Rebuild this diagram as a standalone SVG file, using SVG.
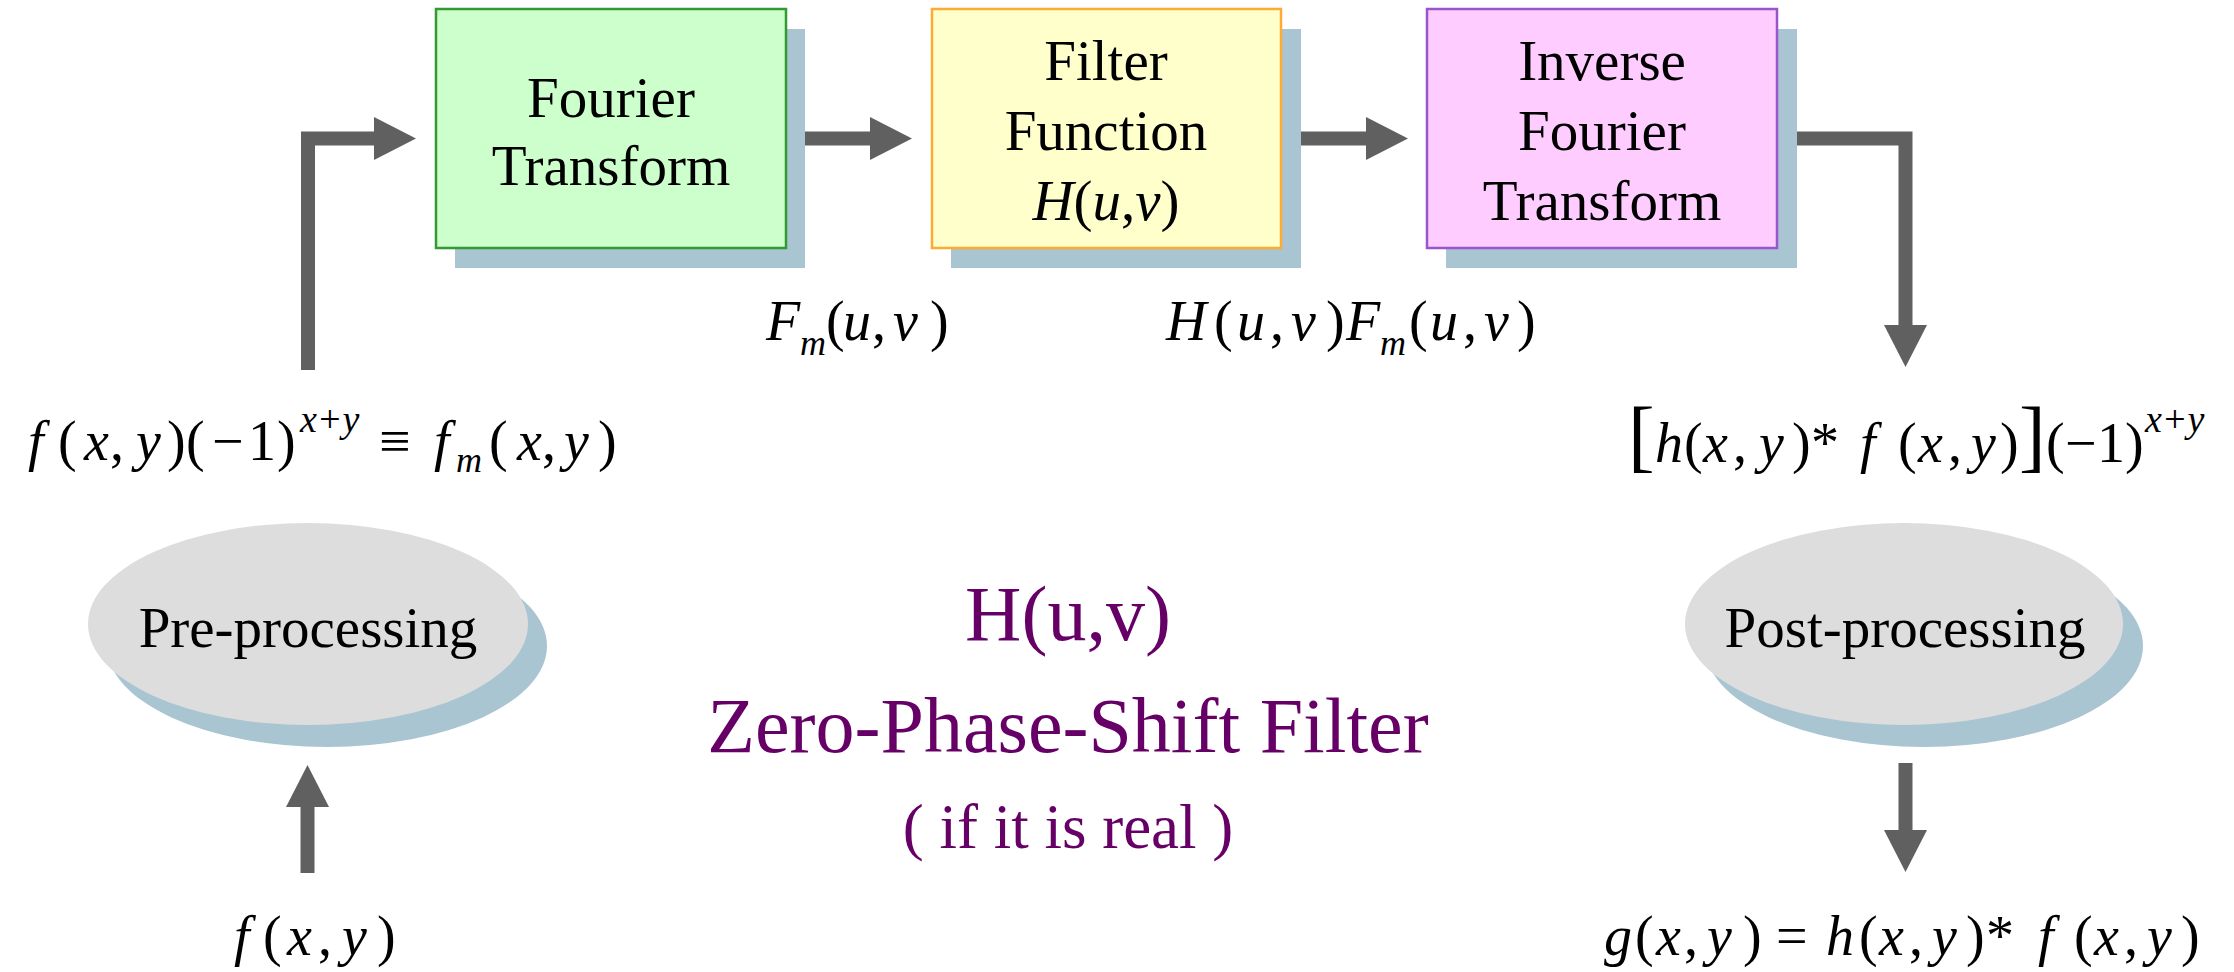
<svg xmlns="http://www.w3.org/2000/svg" width="2234" height="972" viewBox="0 0 2234 972">
<style>
text{font-family:"Liberation Serif","Times New Roman",serif;fill:#000}
.lbl{font-size:57px;text-anchor:middle}
.m{font-size:56px}
.i{font-style:italic}
.sup{font-size:38px;font-style:italic}
.sub{font-size:36px;font-style:italic}
.br{font-size:80px}
.pur{fill:#660066;text-anchor:middle}
.shadow{fill:#a9c5d1}
.box{stroke-width:2.5}
.ell{fill:#dddddd}
.conn{fill:none;stroke:#606060;stroke-width:14;stroke-linejoin:miter;marker-end:url(#ah)}
</style>
<defs>
<marker id="ah" markerUnits="userSpaceOnUse" markerWidth="44" markerHeight="44" refX="0" refY="21.5" orient="auto" viewBox="0 0 44 44">
<path d="M0,0 L42,21.5 L0,43 Z" fill="#606060"/>
</marker>
</defs>
<rect width="2234" height="972" fill="#fff"/>

<g id="connectors">
<path class="conn" d="M308,370 V138.5 H374"/>
<path class="conn" d="M803,138.5 H870"/>
<path class="conn" d="M1299,138.5 H1366"/>
<path class="conn" d="M1795,138.5 H1905.5 V325"/>
<path class="conn" d="M307.5,873 V807"/>
<path class="conn" d="M1905.5,763 V830"/>
</g>

<g id="fourier">
<rect class="shadow" x="455" y="29" width="350" height="239"/>
<rect class="box" x="436" y="9" width="350" height="239" fill="#ccffcc" stroke="#339933"/>
<text class="lbl" x="611" y="117">Fourier</text>
<text class="lbl" x="611" y="185">Transform</text>
</g>

<g id="filter">
<rect class="shadow" x="951" y="29" width="350" height="239"/>
<rect class="box" x="932" y="9" width="349" height="239" fill="#ffffcc" stroke="#ffaa33"/>
<text class="lbl" x="1106" y="80">Filter</text>
<text class="lbl" x="1106" y="150">Function</text>
<text class="lbl" x="1106" y="220"><tspan class="i">H</tspan>(<tspan class="i">u</tspan>,<tspan class="i">v</tspan>)</text>
</g>

<g id="inverse">
<rect class="shadow" x="1446" y="29" width="351" height="239"/>
<rect class="box" x="1427" y="9" width="350" height="239" fill="#ffccff" stroke="#9955cc"/>
<text class="lbl" x="1602" y="80">Inverse</text>
<text class="lbl" x="1602" y="150">Fourier</text>
<text class="lbl" x="1602" y="220">Transform</text>
</g>

<g id="preprocessing">
<ellipse class="shadow" cx="327" cy="646" rx="220" ry="101"/>
<ellipse class="ell" cx="308" cy="624" rx="220" ry="101"/>
<text class="lbl" x="308" y="647">Pre-processing</text>
</g>

<g id="postprocessing">
<ellipse class="shadow" cx="1924" cy="646" rx="219" ry="101"/>
<ellipse class="ell" cx="1904" cy="624" rx="219" ry="101"/>
<text class="lbl" x="1905" y="647">Post-processing</text>
</g>

<g id="fm-label">
<text class="m" y="340"><tspan x="766" class="i">F</tspan><tspan x="800" y="355" class="sub">m</tspan><tspan x="826" y="340">(</tspan><tspan x="843" class="i">u</tspan><tspan x="872">,</tspan><tspan x="893" class="i">v</tspan><tspan x="930">)</tspan></text>
</g>

<g id="hfm-label">
<text class="m" y="340"><tspan x="1166" class="i">H</tspan><tspan x="1214">(</tspan><tspan x="1237" class="i">u</tspan><tspan x="1270">,</tspan><tspan x="1291" class="i">v</tspan><tspan x="1326">)</tspan><tspan x="1346" class="i">F</tspan><tspan x="1380" y="355" class="sub">m</tspan><tspan x="1409" y="340">(</tspan><tspan x="1430" class="i">u</tspan><tspan x="1463">,</tspan><tspan x="1484" class="i">v</tspan><tspan x="1517">)</tspan></text>
</g>

<g id="fm-xy">
<text class="m" y="460"><tspan x="28" class="i">f</tspan><tspan x="58">(</tspan><tspan x="84" class="i">x</tspan><tspan x="110">,</tspan><tspan x="136" class="i">y</tspan><tspan x="167">)</tspan><tspan x="186">(</tspan><tspan x="212">−</tspan><tspan x="248">1</tspan><tspan x="277">)</tspan><tspan x="300" y="432" class="sup">x+y</tspan><tspan x="379" y="460">≡</tspan><tspan x="434" class="i">f</tspan><tspan x="456" y="472" class="sub">m</tspan><tspan x="489" y="460">(</tspan><tspan x="517" class="i">x</tspan><tspan x="542">,</tspan><tspan x="564" class="i">y</tspan><tspan x="598">)</tspan></text>
</g>

<g id="conv-shift">
<text class="m" y="462"><tspan x="1628" class="br">[</tspan><tspan x="1655" class="i">h</tspan><tspan x="1684">(</tspan><tspan x="1703" class="i">x</tspan><tspan x="1733">,</tspan><tspan x="1759" class="i">y</tspan><tspan x="1792">)</tspan><tspan x="1811">*</tspan><tspan x="1860" class="i">f</tspan><tspan x="1898">(</tspan><tspan x="1918" class="i">x</tspan><tspan x="1948">,</tspan><tspan x="1971" class="i">y</tspan><tspan x="2000">)</tspan><tspan x="2019" class="br">]</tspan><tspan x="2046">(</tspan><tspan x="2065">−</tspan><tspan x="2097">1</tspan><tspan x="2125">)</tspan><tspan x="2145" y="432" class="sup">x+y</tspan></text>
</g>

<g id="input">
<text class="m" y="955"><tspan x="234" class="i">f</tspan><tspan x="263">(</tspan><tspan x="287" class="i">x</tspan><tspan x="318">,</tspan><tspan x="342" class="i">y</tspan><tspan x="377">)</tspan></text>
</g>

<g id="output">
<text class="m" y="955"><tspan x="1604" class="i">g</tspan><tspan x="1635">(</tspan><tspan x="1656" class="i">x</tspan><tspan x="1684">,</tspan><tspan x="1707" class="i">y</tspan><tspan x="1743">)</tspan><tspan x="1776">=</tspan><tspan x="1826" class="i">h</tspan><tspan x="1859">(</tspan><tspan x="1879" class="i">x</tspan><tspan x="1909">,</tspan><tspan x="1932" class="i">y</tspan><tspan x="1966">)</tspan><tspan x="1986">*</tspan><tspan x="2038" class="i">f</tspan><tspan x="2074">(</tspan><tspan x="2094" class="i">x</tspan><tspan x="2124">,</tspan><tspan x="2147" class="i">y</tspan><tspan x="2181">)</tspan></text>
</g>

<g id="note">
<text class="pur" x="1068" y="640" font-size="78">H(u,v)</text>
<text class="pur" x="1068" y="752" font-size="78">Zero-Phase-Shift Filter</text>
<text class="pur" x="1068" y="848" font-size="63">( if it is real )</text>
</g>
</svg>
